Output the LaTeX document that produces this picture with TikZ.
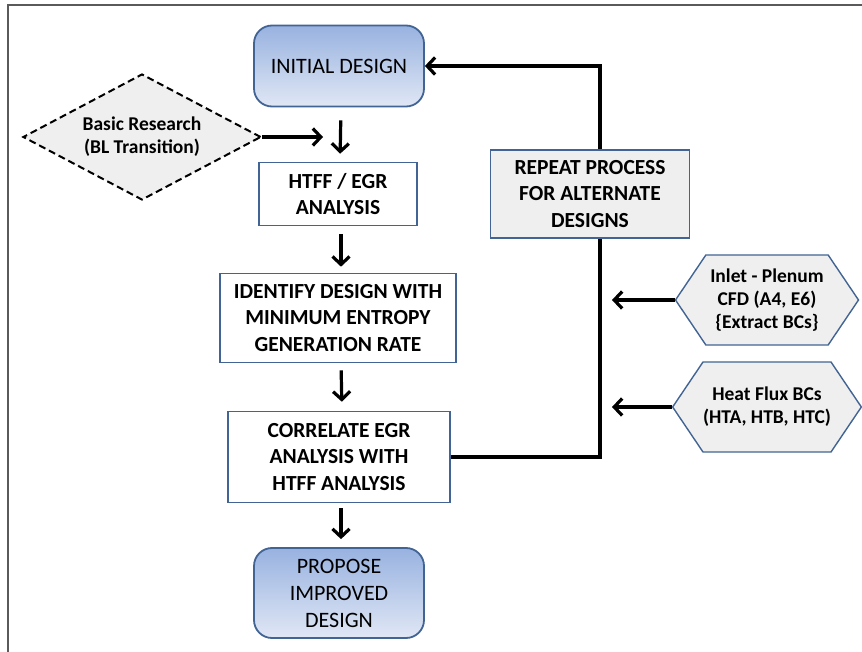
\documentclass[tikz,border=0pt]{standalone}
\usepackage{fontspec}
\setmainfont{Carlito}
\usetikzlibrary{arrows.meta, positioning, shapes.geometric, shapes.symbols}
\definecolor{boxblue}{RGB}{66,100,148}
\definecolor{gradtop}{RGB}{152,178,224}
\definecolor{gradbot}{RGB}{224,231,245}
\definecolor{paper}{RGB}{239,239,239}
\definecolor{frame}{RGB}{90,90,90}

\begin{document}
\begin{tikzpicture}[x=1pt,y=-1pt,>={Straight Barb[length=8pt,width=17pt]}]
    % styles
    \tikzset{
        roundbox/.style={rectangle,rounded corners=18pt,draw=boxblue,line width=1.8pt,
            top color=gradtop,bottom color=gradbot,align=center,inner sep=0pt,
            font=\fontsize{22}{27}\selectfont},
        plainbox/.style={rectangle,draw=boxblue,line width=1.6pt,fill=white,align=center,
            inner sep=0pt,font=\fontsize{21.5}{26.5}\selectfont\bfseries},
        greybox/.style={plainbox,fill=paper},
        input/.style={signal,signal to=west and east,signal pointer angle=112,draw=boxblue,
            line width=1.4pt,fill=paper,align=center,inner sep=0pt,
            minimum width=183pt,minimum height=90pt,font=\fontsize{19.5}{23}\selectfont\bfseries},
        research/.style={diamond,aspect=2,draw,dash pattern=on 7pt off 4pt,line width=2pt,
            fill=paper,align=center,inner sep=0pt,minimum width=238pt,minimum height=126pt,
            font=\fontsize{19.5}{23}\selectfont\bfseries},
        arr/.style={->,line width=3.2pt},
        feed/.style={line width=3.2pt}
    }
    \useasboundingbox (0,0) rectangle (862,652);
    % frame
    \draw[frame,line width=1.5pt] (8,652) -- (8,5) -- (862,5);

    % nodes
    \node[roundbox,minimum width=170pt,minimum height=81pt] (init) at (339,66) {INITIAL DESIGN};
    \node[research] (basic) at (142,137) {Basic Research\\(BL Transition)};
    \node[plainbox,minimum width=158pt,minimum height=63pt] (htff) at (338,194) {HTFF / EGR\\ANALYSIS};
    \node[plainbox,minimum width=236pt,minimum height=89pt] (ident) at (338,318)
        {IDENTIFY DESIGN WITH\\MINIMUM ENTROPY\\GENERATION RATE};
    \node[plainbox,minimum width=222pt,minimum height=91pt] (corr) at (339,457)
        {CORRELATE EGR\\ANALYSIS WITH\\HTFF ANALYSIS};
    \node[roundbox,minimum width=170pt,minimum height=90pt] (prop) at (339,593)
        {PROPOSE\\IMPROVED\\DESIGN};
    \node[greybox,minimum width=199pt,minimum height=88pt] (repeat) at (590,194)
        {REPEAT PROCESS\\FOR ALTERNATE\\DESIGNS};
    \node[input] (plenum) at (767,300) {Inlet - Plenum\\CFD (A4, E6)\\\{Extract BCs\}};
    \node[input] (flux) at (767,407) {Heat Flux BCs\\(HTA, HTB, HTC)};

    % free ends of the connectors
    \coordinate (resin) at (323,137);
    \coordinate (cb) at (600,457);
    \coordinate (ct) at (600,66);
    \coordinate (ina) at (612,300);
    \coordinate (inb) at (612,407);

    % main flow
    \draw[arr,shorten <=13pt,shorten >=8pt] ([xshift=2pt]init.south) -- ([xshift=2pt]htff.north);
    \draw[arr,shorten <=8pt,shorten >=6pt] ([xshift=3pt]htff.south) -- ([xshift=3pt]ident.north);
    \draw[arr,shorten <=7pt,shorten >=9pt] ([xshift=3pt]ident.south) -- ([xshift=3pt]corr.north);
    \draw[arr,shorten <=5pt,shorten >=8pt] ([xshift=2pt]corr.south) -- ([xshift=2pt]prop.north);
    \draw[arr] (basic.east) -- (resin);

    % feedback loop
    \draw[feed] (corr.east) -- (cb) -- (repeat.south -| cb);
    \draw[arr] (repeat.north -| ct) -- (ct) -- (init.east);

    % boundary conditions
    \draw[arr] (plenum.west) -- (ina);
    \draw[arr] (flux.west) -- (inb);
\end{tikzpicture}
\end{document}
